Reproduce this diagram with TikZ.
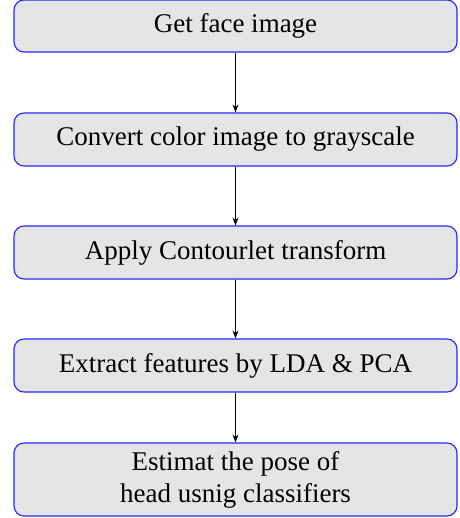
\documentclass[tikz,border=0pt]{standalone}
\usepackage{fontspec}
\setmainfont{Liberation Serif}
\usetikzlibrary{arrows.meta}
\begin{document}
\begin{tikzpicture}[x=1pt,y=-1pt,
  stepbox/.style={draw=blue!85!white,fill=gray!20,line width=1.1pt,rounded corners=10pt,
    minimum width=443pt,inner sep=0pt,align=center,
    font=\fontsize{27}{32}\selectfont},
  flow/.style={-{Stealth[length=8pt,width=6pt]},line width=1pt,black}]
\useasboundingbox (0,0) rectangle (459,518);
\node[stepbox,minimum height=52pt] (s1) at (235.5,26) {Get face image};
\node[stepbox,minimum height=53pt] (s2) at (235.5,139.5) {Convert color image to grayscale};
\node[stepbox,minimum height=53pt] (s3) at (235.5,252.5) {Apply Contourlet transform};
\node[stepbox,minimum height=53pt] (s4) at (235.5,365.5) {Extract features by LDA \& PCA};
\node[stepbox,minimum height=73pt] (s5) at (235.5,479.5) {Estimat the pose of\\head usnig classifiers};
\draw[flow] (s1) -- (s2);
\draw[flow] (s2) -- (s3);
\draw[flow] (s3) -- (s4);
\draw[flow] (s4) -- (s5);
\end{tikzpicture}
\end{document}
